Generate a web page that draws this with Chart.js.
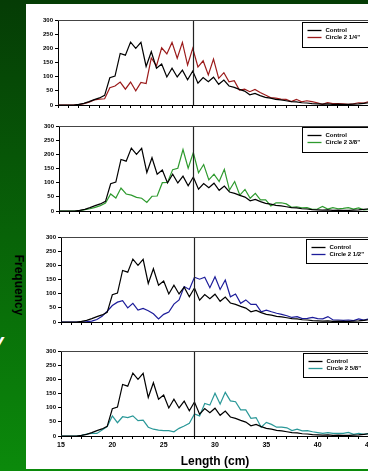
<!DOCTYPE html>
<html>
<head>
<meta charset="utf-8">
<script src="https://cdn.jsdelivr.net/npm/chart.js@4.4.0/dist/chart.umd.min.js"></script>
<style>
    html, body { margin: 0; padding: 0; width: 368px; height: 471px; overflow: hidden; }
    body { position: relative; background: linear-gradient(#053c05, #0b8a0b); font-family: Arial, "Liberation Sans", sans-serif; }
    #panel { position: absolute; left: 26px; top: 4px; width: 360px; height: 465px; background: #fff; }
    .box { position: absolute; left: 0; }
    #freq { position: absolute; left: 19px; top: 285px; transform: translate(-50%, -50%) rotate(90deg); font-weight: bold; font-size: 12px; color: #000; white-space: nowrap; }
    #bigy { position: absolute; left: -12px; top: 326px; color: #fff; font-size: 30px; font-style: italic; }
</style>
</head>
<body>
<div id="panel"></div>
<div id="freq">Frequency</div>
<div id="bigy">y</div>

<script>
// Length bins (cm)
const lengths = [15, 15.5, 16, 16.5, 17, 17.5, 18, 18.5, 19, 19.5,
    20, 20.5, 21, 21.5, 22, 22.5, 23, 23.5, 24, 24.5,
    25, 25.5, 26, 26.5, 27, 27.5, 28, 28.5, 29, 29.5,
    30, 30.5, 31, 31.5, 32, 32.5, 33, 33.5, 34, 34.5,
    35, 35.5, 36, 36.5, 37, 37.5, 38, 38.5, 39, 39.5,
    40, 40.5, 41, 41.5, 42, 42.5, 43, 43.5, 44, 44.5, 45];

const control = [0, 0, 0, 0, 2, 6, 12, 19, 25, 34,
    96, 102, 182, 176, 222, 200, 221, 136, 188, 130,
    145, 99, 130, 99, 123, 89, 120, 77, 97, 82,
    98, 73, 88, 67, 62, 55, 49, 36, 41, 33,
    27, 24, 20, 18, 15, 12, 11, 8, 7, 5,
    4, 3, 4, 2, 3, 2, 2, 3, 4, 6, 8];

const circle14 = [0, 0, 0, 0, 1, 5, 10, 18, 21, 22,
    61, 67, 81, 56, 81, 50, 80, 76, 166, 138,
    202, 180, 221, 165, 221, 141, 200, 134, 156, 106,
    162, 94, 114, 82, 86, 53, 56, 47, 55, 44,
    35, 26, 24, 21, 20, 12, 20, 11, 15, 12,
    8, 2, 8, 5, 5, 4, 2, 4, 8, 7, 12];

const circle38 = [0, 0, 0, 0, 1, 5, 8, 13, 19, 28,
    60, 46, 81, 60, 56, 48, 45, 30, 52, 53,
    100, 101, 146, 151, 217, 151, 206, 135, 164, 110,
    130, 104, 147, 74, 104, 56, 76, 45, 62, 39,
    39, 18, 29, 29, 25, 13, 15, 11, 12, 6,
    7, 16, 7, 12, 8, 9, 12, 7, 11, 4, 6];

const circle12 = [0, 0, 0, 0, 0, 1, 3, 9, 20, 38,
    58, 70, 75, 50, 66, 42, 48, 40, 29, 11,
    27, 35, 63, 78, 125, 115, 158, 151, 158, 121,
    160, 115, 148, 89, 99, 66, 78, 62, 62, 36,
    42, 36, 31, 27, 22, 16, 19, 12, 13, 16,
    12, 11, 19, 7, 7, 6, 7, 5, 11, 7, 11];

const circle58 = [0, 0, 0, 0, 2, 7, 9, 9, 21, 33,
    71, 47, 68, 65, 71, 54, 56, 31, 24, 21,
    19, 19, 15, 27, 35, 45, 78, 71, 115, 109,
    151, 113, 154, 124, 121, 92, 92, 62, 65, 31,
    48, 41, 31, 31, 29, 19, 24, 18, 19, 15,
    12, 9, 12, 9, 9, 9, 13, 6, 9, 6, 9];

const yTicks = [0, 50, 100, 150, 200, 250, 300];
const cutoff = 28;

// one entry per panel: series + where it sits on the page
const panels = [
    { label: 'Circle 2 1/4"', color: '#9b1b1b', values: circle14, top: 20, bottom: 105, left: 58, legX: 302, legY: 22, legH: 25, showX: false },
    { label: 'Circle 2 3/8"', color: '#2e9a2e', values: circle38, top: 126, bottom: 211, left: 59, legX: 302, legY: 127, legH: 25, showX: false },
    { label: 'Circle 2 1/2"', color: '#1c1c9a', values: circle12, top: 237, bottom: 322, left: 61, legX: 306, legY: 239, legH: 24, showX: false },
    { label: 'Circle 2 5/8"', color: '#2a9898', values: circle58, top: 351, bottom: 436, left: 61, legX: 303, legY: 353, legH: 24, showX: true }
];

const PAD_TOP = 8;
const CANVAS_W = 400;
const RIGHT_EDGE = 369;

function pts(arr) {
    return lengths.map((x, i) => ({ x: x, y: arr[i] }));
}

// frame, cutoff line and boxed legend
const extras = {
    id: 'extras',
    afterDatasetsDraw(chart, args, opts) {
        const ctx = chart.ctx;
        const a = chart.chartArea;
        const x = chart.scales.x;
        ctx.save();
        const cx = Math.round(x.getPixelForValue(cutoff)) + 0.5;
        ctx.strokeStyle = '#222';
        ctx.lineWidth = 1.2;
        ctx.beginPath();
        ctx.moveTo(cx, a.top);
        ctx.lineTo(cx, a.bottom);
        ctx.stroke();

        ctx.strokeStyle = '#444';
        ctx.lineWidth = 1;
        ctx.beginPath();
        ctx.moveTo(a.left, Math.round(a.top) + 0.5);
        ctx.lineTo(a.right, Math.round(a.top) + 0.5);
        ctx.stroke();

        // legend box
        const bx = opts.legX + 0.5, by = opts.legY - opts.top + a.top + 0.5;
        const bw = 80, bh = opts.legH;
        ctx.fillStyle = '#fff';
        ctx.fillRect(bx, by, bw, bh);
        ctx.strokeStyle = '#000';
        ctx.lineWidth = 1;
        ctx.strokeRect(bx, by, bw, bh);
        ctx.font = 'bold 6px Arial';
        ctx.textBaseline = 'middle';
        chart.data.datasets.forEach((ds, i) => {
            const ly = by + 8 + i * 7;
            ctx.strokeStyle = ds.borderColor;
            ctx.lineWidth = 1.3;
            ctx.beginPath();
            ctx.moveTo(bx + 5, ly);
            ctx.lineTo(bx + 19, ly);
            ctx.stroke();
            ctx.fillStyle = '#000';
            ctx.fillText(ds.label, bx + 23, ly);
        });
        ctx.restore();
    }
};

panels.forEach(p => {
    const xH = p.showX ? 33 : 14;
    const h = PAD_TOP + (p.bottom - p.top) + xH;
    const div = document.createElement('div');
    div.className = 'box';
    div.style.top = (p.top - PAD_TOP) + 'px';
    div.style.width = CANVAS_W + 'px';
    div.style.height = h + 'px';
    const canvas = document.createElement('canvas');
    canvas.width = CANVAS_W;
    canvas.height = h;
    div.appendChild(canvas);
    document.body.appendChild(div);

    new Chart(canvas.getContext('2d'), {
        type: 'line',
        data: {
            datasets: [
                { label: 'Control', data: pts(control), borderColor: '#000', borderWidth: 1.2, pointRadius: 0, tension: 0 },
                { label: p.label, data: pts(p.values), borderColor: p.color, borderWidth: 1.2, pointRadius: 0, tension: 0 }
            ]
        },
        options: {
            responsive: false,
            animation: false,
            devicePixelRatio: 1,
            layout: { padding: { top: PAD_TOP, right: CANVAS_W - RIGHT_EDGE, left: 0, bottom: 0 } },
            plugins: {
                legend: { display: false },
                tooltip: { enabled: false },
                extras: { legX: p.legX, legY: p.legY, legH: p.legH, top: p.top }
            },
            scales: {
                x: {
                    type: 'linear',
                    min: lengths[0],
                    max: lengths[lengths.length - 1],
                    afterFit: s => { s.height = xH; },
                    ticks: {
                        stepSize: 1,
                        autoSkip: false,
                        maxRotation: 0,
                        padding: 2,
                        color: '#000',
                        font: { family: 'Arial', size: 7, weight: 'bold' },
                        callback: v => (p.showX && v % 5 === 0) ? v : ''
                    },
                    grid: { drawOnChartArea: false, drawTicks: true, tickLength: 3, color: '#000' },
                    border: { color: '#000', width: 1 },
                    title: {
                        display: p.showX,
                        text: 'Length (cm)',
                        color: '#000',
                        padding: { top: 0, bottom: 0 },
                        font: { family: 'Arial', size: 12, weight: 'bold' }
                    }
                },
                y: {
                    min: 0,
                    max: 300,
                    afterFit: s => { s.width = p.left; },
                    afterBuildTicks: s => { s.ticks = yTicks.map(v => ({ value: v })); },
                    ticks: {
                        padding: 2,
                        color: '#000',
                        font: { family: 'Arial', size: 6, weight: 'bold' }
                    },
                    grid: { drawOnChartArea: false, drawTicks: true, tickLength: 3, color: '#000' },
                    border: { color: '#000', width: 1 }
                }
            }
        },
        plugins: [extras]
    });
});
</script>
</body>
</html>
